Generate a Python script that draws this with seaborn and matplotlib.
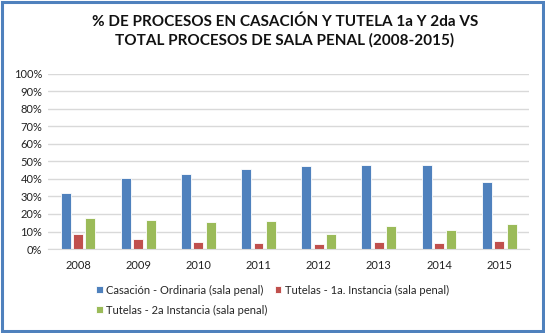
import matplotlib
matplotlib.use("Agg")
import matplotlib.pyplot as plt
import seaborn as sns
import pandas as pd
from matplotlib.patches import Rectangle
from matplotlib.ticker import PercentFormatter

years = ["2008", "2009", "2010", "2011", "2012", "2013", "2014", "2015"]
series_names = [
    "Casación - Ordinaria (sala penal)",
    "Tutelas - 1a. Instancia (sala penal)",
    "Tutelas - 2a Instancia (sala penal)",
]
casacion = [0.322, 0.406, 0.429, 0.455, 0.473, 0.478, 0.478, 0.385]
tutela1 = [0.087, 0.060, 0.040, 0.032, 0.028, 0.042, 0.032, 0.047]
tutela2 = [0.177, 0.167, 0.152, 0.161, 0.087, 0.134, 0.110, 0.142]
colors = ["#4F81BD", "#C0504D", "#9BBB59"]
title = "% DE PROCESOS EN CASACIÓN Y TUTELA 1a Y 2da VS\nTOTAL PROCESOS DE SALA PENAL (2008-2015)"

rows = []
for name, vals in zip(series_names, [casacion, tutela1, tutela2]):
    for y, v in zip(years, vals):
        rows.append({"Año": y, "Serie": name, "Valor": v})
df = pd.DataFrame(rows)

sns.set_style("white")
plt.rcParams["font.family"] = ["Lato", "DejaVu Sans"]

fig = plt.figure(figsize=(5.45, 3.33), dpi=100)
ax = fig.add_axes([0.088, 0.252, 0.883, 0.527])

sns.barplot(data=df, x="Año", y="Valor", hue="Serie", palette=colors,
            width=0.62, gap=0.2, ax=ax, edgecolor="white", linewidth=0.6,
            saturation=1, legend=True)

ax.set_ylim(0, 1.0)
ax.set_yticks([i / 10 for i in range(11)])
ax.yaxis.set_major_formatter(PercentFormatter(1.0, decimals=0))
ax.grid(axis="y", color="#D9D9D9", linewidth=1)
ax.set_axisbelow(True)
for s in ["top", "right", "left"]:
    ax.spines[s].set_visible(False)
ax.spines["bottom"].set_color("#D9D9D9")
ax.set_xlabel("")
ax.set_ylabel("")
ax.tick_params(axis="both", length=0, labelsize=8, colors="#222222")
ax.tick_params(axis="x", pad=8)
ax.tick_params(axis="y", pad=4)

handles, labels = ax.get_legend_handles_labels()
ax.get_legend().remove()
order = [0, 2, 1]
fig.legend([handles[i] for i in order], [labels[i] for i in order],
           ncol=2, loc="upper left", bbox_to_anchor=(0.176, 0.145),
           frameon=False, fontsize=8, handlelength=0.6, handleheight=0.6,
           handletextpad=0.35, columnspacing=0.6, labelspacing=0.8,
           borderaxespad=0, borderpad=0)

fig.text(0.523, 0.907, title, ha="center", va="center", fontsize=11,
         fontweight="bold", linespacing=1.35, color="#111111")

fig.patches.append(Rectangle((0.003, 0.005), 0.994, 0.99, transform=fig.transFigure,
                             fill=False, edgecolor="#4F81BD", linewidth=2.2))

fig.savefig("out.png", dpi=100)
